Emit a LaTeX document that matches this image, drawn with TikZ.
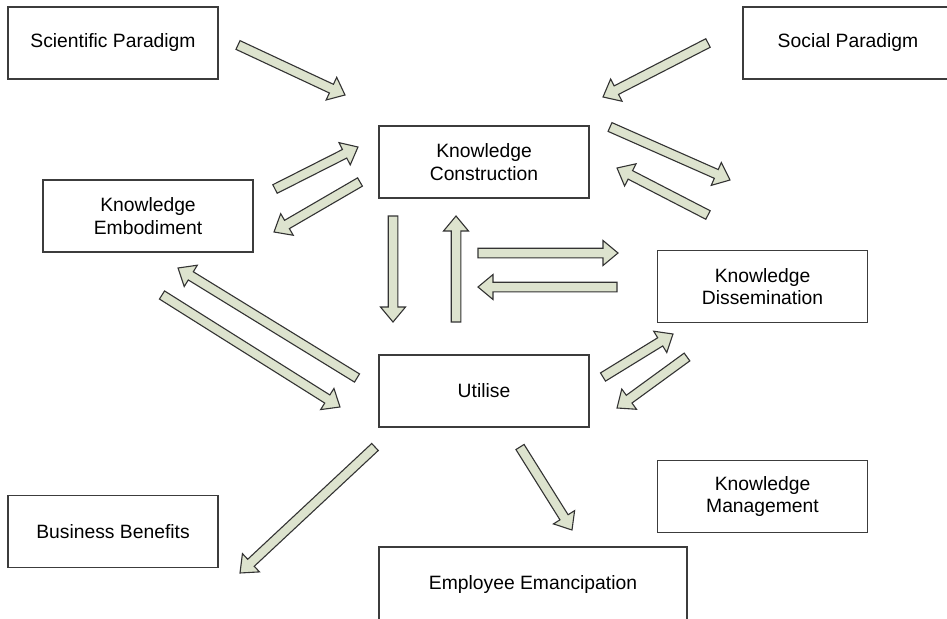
\documentclass[tikz,border=0pt]{standalone}
\usepackage{fontspec}
\setmainfont{Liberation Sans}
\usetikzlibrary{calc}
\definecolor{arrfill}{HTML}{DDE3CE}
\definecolor{edgecol}{HTML}{3C3C3C}
\tikzset{
  box/.style={draw=edgecol, line width=1.2pt, minimum width=210pt, minimum height=72pt,
    inner sep=0pt, align=center, font=\fontsize{19.3}{22.6}\selectfont},
  barrow/.style={draw=black!80, fill=arrfill, line width=1.1pt, line join=miter},
}
\newcommand\blockarr[2]{%
  \draw[barrow] let \p1=($(#2)-(#1)$), \n1={atan2(\y1,\x1)}, \n2={veclen(\x1,\y1)} in
  [shift={(#1)}, rotate=\n1] (0pt,-4.8pt) -- ({\n2-15pt},-4.8pt) -- ({\n2-15pt},-12.5pt)
  -- (\n2,0pt) -- ({\n2-15pt},12.5pt) -- ({\n2-15pt},4.8pt) -- (0pt,4.8pt) -- cycle;}
\begin{document}
\begin{tikzpicture}[x=1pt,y=-1pt]
\useasboundingbox (0,0) rectangle (947,618);
\clip (0,0) rectangle (947,618);
\node[box] (sci) at (113,43) {Scientific Paradigm};
\node[box] (soc) at (848,43) {Social Paradigm};
\node[box] (kc) at (484,162) {Knowledge\\Construction};
\node[box] (emb) at (148,216) {Knowledge\\Embodiment};
\node[box] (dis) at (762.5,286.5) {Knowledge\\Dissemination};
\node[box] (uti) at (484,391) {Utilise};
\node[box] (bus) at (113,531.5) {Business Benefits};
\node[box] (km) at (762.5,496.5) {Knowledge\\Management};
\node[box, minimum width=308pt, minimum height=76pt] (emp) at (533,585) {Employee Emancipation};
% arrow end points
\coordinate (a1s) at (238,45);  \coordinate (a1e) at (345,95);
\coordinate (a2s) at (708,43);  \coordinate (a2e) at (603,97);
\coordinate (a3s) at (275,189); \coordinate (a3e) at (358,147);
\coordinate (a4s) at (360,182); \coordinate (a4e) at (274,232);
\coordinate (a5s) at (393,216); \coordinate (a5e) at (393,322);
\coordinate (a6s) at (456,322); \coordinate (a6e) at (456,216);
\coordinate (a7s) at (478,253); \coordinate (a7e) at (618,253);
\coordinate (a8s) at (617,287); \coordinate (a8e) at (478,287);
\coordinate (a9s) at (610,127); \coordinate (a9e) at (730,180);
\coordinate (a10s) at (708,215); \coordinate (a10e) at (617,168);
\coordinate (a11s) at (357,378); \coordinate (a11e) at (178,268);
\coordinate (a12s) at (162,295); \coordinate (a12e) at (340,407);
\coordinate (a13s) at (603,377); \coordinate (a13e) at (673,334);
\coordinate (a14s) at (687,357); \coordinate (a14e) at (617,408);
\coordinate (a15s) at (375,447); \coordinate (a15e) at (240,573);
\coordinate (a16s) at (520,447); \coordinate (a16e) at (572,530);
\blockarr{a1s}{a1e}
\blockarr{a2s}{a2e}
\blockarr{a3s}{a3e}
\blockarr{a4s}{a4e}
\blockarr{a5s}{a5e}
\blockarr{a6s}{a6e}
\blockarr{a7s}{a7e}
\blockarr{a8s}{a8e}
\blockarr{a9s}{a9e}
\blockarr{a10s}{a10e}
\blockarr{a11s}{a11e}
\blockarr{a12s}{a12e}
\blockarr{a13s}{a13e}
\blockarr{a14s}{a14e}
\blockarr{a15s}{a15e}
\blockarr{a16s}{a16e}
\end{tikzpicture}
\end{document}
